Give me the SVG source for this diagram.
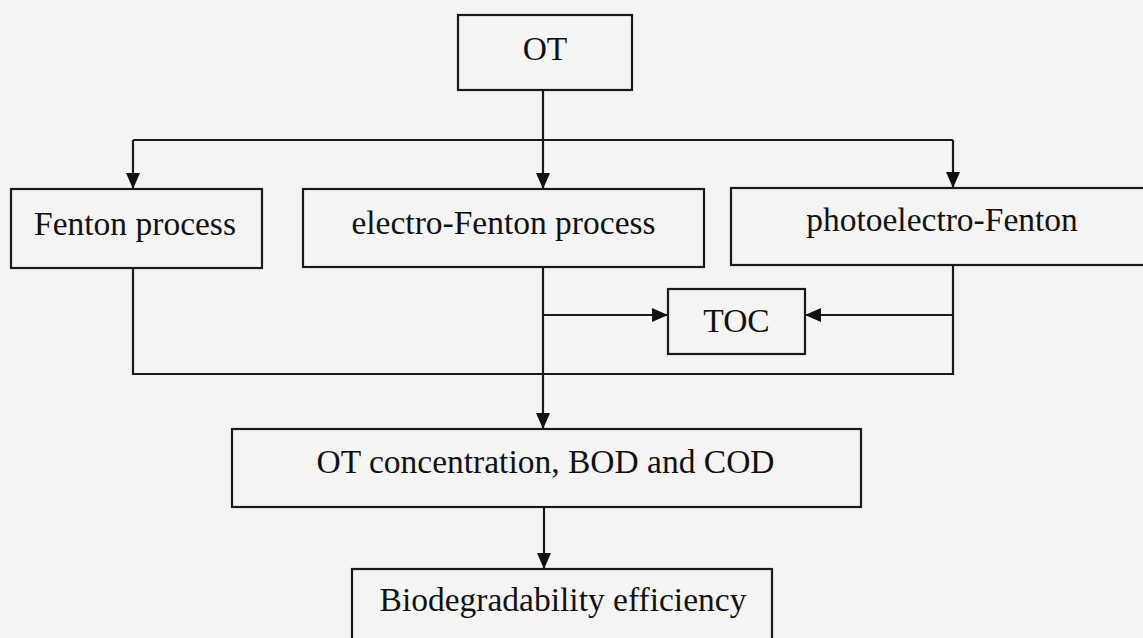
<svg xmlns="http://www.w3.org/2000/svg" width="1143" height="638" viewBox="0 0 1143 638">
<style>
.box{fill:none;stroke:#1a1a1a;stroke-width:2.2}
.lbl{font-family:"Liberation Serif","Times New Roman",serif;font-size:33.5px;fill:#111;text-anchor:middle}
.ln{fill:none;stroke:#1a1a1a;stroke-width:2.2}
</style>
<defs>
<marker id="ah" viewBox="0 0 16 14" refX="16" refY="7" markerWidth="16" markerHeight="14" markerUnits="userSpaceOnUse" orient="auto">
<path d="M0,0 L16,7 L0,14 Z" fill="#111"/>
</marker>
</defs>
<rect width="1143" height="638" fill="#f4f4f3"/>
<g id="connectors">
<line class="ln" x1="543" y1="90" x2="543" y2="189" marker-end="url(#ah)"/>
<line class="ln" x1="133" y1="140" x2="953" y2="140"/>
<line class="ln" x1="133" y1="140" x2="133" y2="189" marker-end="url(#ah)"/>
<line class="ln" x1="953" y1="140" x2="953" y2="188" marker-end="url(#ah)"/>
<polyline class="ln" points="133,268 133,374 953,374 953,265"/>
<line class="ln" x1="543" y1="267" x2="543" y2="429" marker-end="url(#ah)"/>
<line class="ln" x1="543" y1="315" x2="668" y2="315" marker-end="url(#ah)"/>
<line class="ln" x1="953" y1="315" x2="805" y2="315" marker-end="url(#ah)"/>
<line class="ln" x1="544" y1="507" x2="544" y2="569" marker-end="url(#ah)"/>
</g>
<g id="node-ot">
<rect class="box" x="458" y="15" width="174" height="75"/>
<text class="lbl" x="545" y="60">OT</text>
</g>
<g id="node-fenton">
<rect class="box" x="11" y="189" width="251" height="79"/>
<text class="lbl" x="135" y="235">Fenton process</text>
</g>
<g id="node-electro">
<rect class="box" x="303" y="189" width="401" height="78"/>
<text class="lbl" x="503.5" y="234">electro-Fenton process</text>
</g>
<g id="node-photo">
<rect class="box" x="731" y="188" width="422" height="77"/>
<text class="lbl" x="942" y="231">photoelectro-Fenton</text>
</g>
<g id="node-toc">
<rect class="box" x="668" y="289" width="137" height="65"/>
<text class="lbl" x="736.5" y="332">TOC</text>
</g>
<g id="node-conc">
<rect class="box" x="232" y="429" width="629" height="78"/>
<text class="lbl" x="545.5" y="473">OT concentration, BOD and COD</text>
</g>
<g id="node-bio">
<rect class="box" x="352" y="569" width="420" height="80"/>
<text class="lbl" x="563" y="611">Biodegradability efficiency</text>
</g>
</svg>
